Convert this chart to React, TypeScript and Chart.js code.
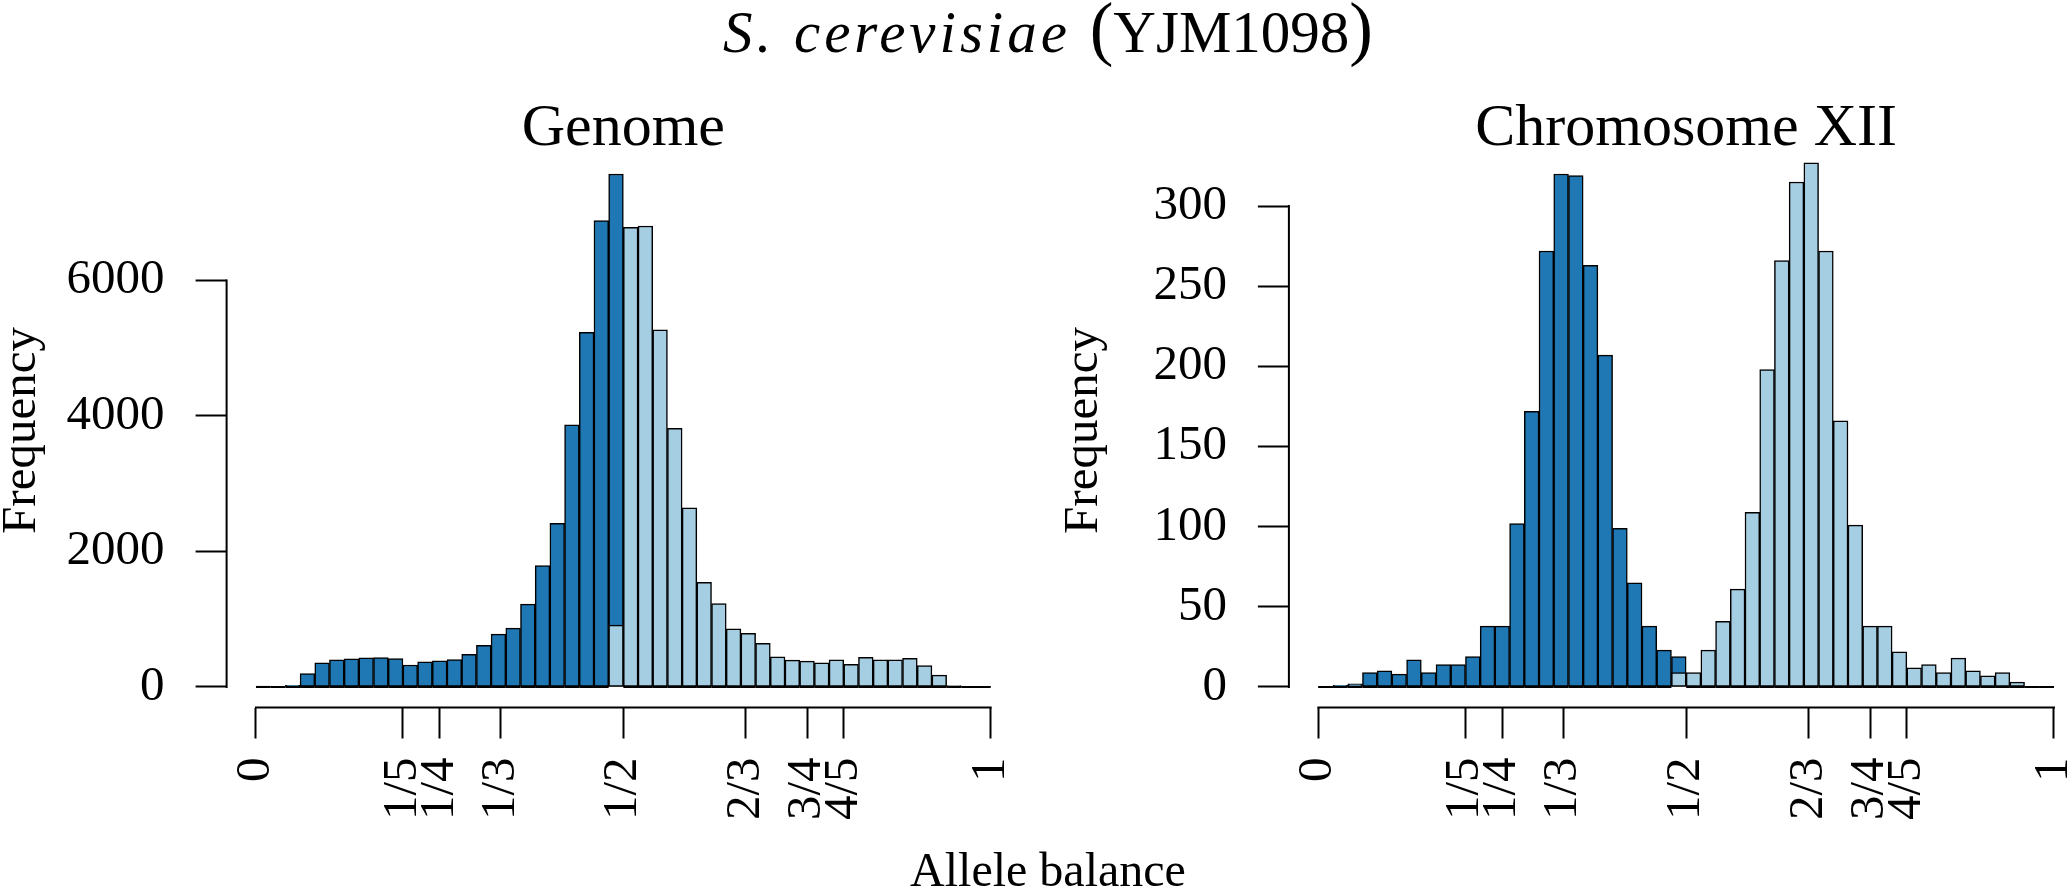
import { useEffect, useRef } from 'react';
import { Chart, registerables } from 'chart.js';

Chart.register(...registerables);

// histogram counts, 50 bins of width 0.02 over [0, 1]
const BIN = 0.02;

const genomeLow = [
  15, 5, 25, 197, 355, 400, 414, 429, 434, 419,
  325, 370, 385, 404, 483, 616, 779, 868, 1222, 1790,
  2415, 3870, 5233, 6883, 7570, 0, 0, 0, 0, 0,
  0, 0, 0, 0, 0, 0, 0, 0, 0, 0,
  0, 0, 0, 0, 0, 0, 0, 0, 0, 0,
];
const genomeHigh = [
  0, 0, 0, 0, 0, 0, 0, 0, 0, 0,
  0, 0, 0, 0, 0, 0, 0, 0, 0, 0,
  0, 0, 0, 0, 914, 6782, 6803, 5270, 3817, 2643,
  1544, 1232, 857, 793, 645, 444, 396, 381, 355, 401,
  333, 438, 401, 401, 423, 317, 174, 20, 5, 10,
];
const chrLow = [
  0, 1, 2, 9, 10, 8, 17, 9, 14, 14,
  19, 38, 38, 102, 172, 272, 320, 319, 263, 207,
  99, 65, 38, 23, 19, 0, 0, 0, 0, 0,
  0, 0, 0, 0, 0, 0, 0, 0, 0, 0,
  0, 0, 0, 0, 0, 0, 0, 0, 0, 0,
];
const chrHigh = [
  0, 0, 0, 0, 0, 0, 0, 0, 0, 0,
  0, 0, 0, 0, 0, 0, 0, 0, 0, 0,
  0, 0, 0, 0, 9, 9, 23, 41, 61, 109,
  198, 266, 315, 327, 272, 166, 101, 38, 38, 22,
  12, 14, 9, 18, 10, 7, 9, 3, 0, 0,
];

const fracTicks = [0, 1 / 5, 1 / 4, 1 / 3, 1 / 2, 2 / 3, 3 / 4, 4 / 5, 1];
const fracLabels = ['0', '1/5', '1/4', '1/3', '1/2', '2/3', '3/4', '4/5', '1'];
const genomeYTicks = [0, 2000, 4000, 6000];
const chrYTicks = [0, 50, 100, 150, 200, 250, 300];

const DARK = '#1f78b4';
const LIGHT = '#a6cee3';
const FONT = "'Liberation Serif', 'Times New Roman', serif";

// canvases are wider than the page; the extra is clipped
const CANVAS_W = 2160;
const CANVAS_H = 892;
const PLOT_TOP = 153.5;
const X_AXIS_H = 184.5;
const FIG_CENTER = 1048;

const rStyle = {
  id: 'rStyle',
  afterDatasetsDraw(chart: any) {
    const { ctx } = chart;
    const x = chart.scales.x;
    const y = chart.scales.y;
    const y0 = y.getPixelForValue(0);
    ctx.save();
    ctx.strokeStyle = '#000';
    ctx.lineWidth = 2;
    // empty bins are flat rectangles in R
    chart.data.datasets.forEach((ds: any, di: number) => {
      const meta = chart.getDatasetMeta(di);
      meta.data.forEach((el: any, i: number) => {
        if (ds.data[i].y !== 0) return;
        const { x: cx, width } = el.getProps(['x', 'width'], true);
        ctx.beginPath();
        ctx.moveTo(cx - width / 2, y0);
        ctx.lineTo(cx + width / 2, y0);
        ctx.stroke();
      });
    });
    // axis lines only between the outer ticks
    const xt = x.ticks;
    const yt = y.ticks;
    ctx.lineCap = 'square';
    ctx.beginPath();
    ctx.moveTo(x.getPixelForValue(xt[0].value), x.top);
    ctx.lineTo(x.getPixelForValue(xt[xt.length - 1].value), x.top);
    ctx.moveTo(y.right, y.getPixelForValue(yt[0].value));
    ctx.lineTo(y.right, y.getPixelForValue(yt[yt.length - 1].value));
    ctx.stroke();
    ctx.restore();
  },
  afterDraw(chart: any, _args: any, opts: any) {
    const { ctx, chartArea: a } = chart;
    ctx.save();
    ctx.fillStyle = '#000';
    ctx.textBaseline = 'alphabetic';
    ctx.textAlign = 'center';
    ctx.font = `60px ${FONT}`;
    ctx.fillText(opts.title, (a.left + a.right) / 2, 145);

    ctx.save();
    ctx.translate(a.left - 192, (a.top + a.bottom) / 2);
    ctx.rotate(-Math.PI / 2);
    ctx.font = `49px ${FONT}`;
    ctx.fillText('Frequency', 0, 0);
    ctx.restore();

    if (opts.figure) {
      ctx.font = `48px ${FONT}`;
      ctx.fillText('Allele balance', FIG_CENTER, 886);

      // S. cerevisiae (YJM1098)
      const parts = [
        { t: 'S. cerevisiae ', f: `italic 59px ${FONT}`, ls: '4px' },
        { t: '(', f: `71px ${FONT}`, ls: '0px' },
        { t: 'YJM1098', f: `59px ${FONT}`, ls: '0px' },
        { t: ')', f: `71px ${FONT}`, ls: '0px' },
      ];
      const widths = parts.map((p) => {
        ctx.font = p.f;
        (ctx as any).letterSpacing = p.ls;
        return ctx.measureText(p.t).width;
      });
      let cx = FIG_CENTER - widths.reduce((s, w) => s + w, 0) / 2;
      ctx.textAlign = 'left';
      parts.forEach((p, i) => {
        ctx.font = p.f;
        (ctx as any).letterSpacing = p.ls;
        ctx.fillText(p.t, cx, 52);
        cx += widths[i];
      });
    }
    ctx.restore();
  },
};

type PanelSpec = {
  title: string;
  low: number[];
  high: number[];
  yTicks: number[];
  plotLeft: number;
  padRight: number;
  figure: boolean;
};

function buildConfig(p: PanelSpec): any {
  const top = Math.max(...p.low);
  const toPoints = (arr: number[]) => arr.map((v, i) => ({ x: (i + 0.5) * BIN, y: v }));
  const barStyle = {
    grouped: false,
    barPercentage: 1,
    categoryPercentage: 1,
    borderColor: '#000',
    borderWidth: 1.5,
    borderSkipped: false,
  };
  const tickFont = { family: FONT, size: 49 };
  const grid = {
    offset: false,
    drawOnChartArea: false,
    drawTicks: true,
    tickLength: 31,
    tickColor: '#000',
    tickWidth: 2,
  };
  return {
    type: 'bar',
    data: {
      datasets: [
        { label: 'low', data: toPoints(p.low), backgroundColor: DARK, order: 1, ...barStyle },
        { label: 'high', data: toPoints(p.high), backgroundColor: LIGHT, order: 0, ...barStyle },
      ],
    },
    options: {
      animation: false,
      responsive: false,
      devicePixelRatio: 1,
      layout: { padding: { top: PLOT_TOP, right: p.padRight, left: 0, bottom: 0 } },
      scales: {
        x: {
          type: 'linear',
          min: -0.04,
          max: 1.04,
          offset: false,
          afterBuildTicks: (s: any) => {
            s.ticks = fracTicks.map((v) => ({ value: v }));
          },
          afterFit: (s: any) => {
            s.height = X_AXIS_H;
          },
          grid,
          border: { display: false },
          ticks: {
            autoSkip: false,
            minRotation: 90,
            maxRotation: 90,
            padding: 19,
            color: '#000',
            font: tickFont,
            callback: (v: number) => {
              const i = fracTicks.findIndex((t) => Math.abs(t - v) < 1e-9);
              return i >= 0 ? fracLabels[i] : '';
            },
          },
        },
        y: {
          type: 'linear',
          min: -0.04 * top,
          max: 1.04 * top,
          afterBuildTicks: (s: any) => {
            s.ticks = p.yTicks.map((v) => ({ value: v }));
          },
          afterFit: (s: any) => {
            s.width = p.plotLeft;
          },
          grid,
          border: { display: false },
          ticks: {
            padding: 31,
            color: '#000',
            font: tickFont,
            callback: (v: number) => String(v),
          },
        },
      },
      plugins: {
        legend: { display: false },
        tooltip: { enabled: false },
        rStyle: { title: p.title, figure: p.figure },
      },
    },
    plugins: [rStyle],
  };
}

function Panel({ spec }: { spec: PanelSpec }) {
  const ref = useRef<HTMLCanvasElement>(null);

  useEffect(() => {
    if (!ref.current) return;
    const chart = new Chart(ref.current, buildConfig(spec));
    return () => {
      chart.destroy();
    };
  }, [spec]);

  return (
    <canvas
      ref={ref}
      width={CANVAS_W}
      height={CANVAS_H}
      style={{ position: 'absolute', left: 0, top: 0, width: CANVAS_W, height: CANVAS_H }}
    />
  );
}

const genomeSpec: PanelSpec = {
  title: 'Genome',
  low: genomeLow,
  high: genomeHigh,
  yTicks: genomeYTicks,
  plotLeft: 226.6,
  padRight: CANVAS_W - 1020.1,
  figure: true,
};

const chrSpec: PanelSpec = {
  title: 'Chromosome XII',
  low: chrLow,
  high: chrHigh,
  yTicks: chrYTicks,
  plotLeft: 1288.9,
  padRight: CANVAS_W - 2083.4,
  figure: false,
};

export default function App() {
  return (
    <div
      style={{
        position: 'fixed',
        left: 0,
        top: 0,
        width: 2072,
        height: 892,
        overflow: 'hidden',
        background: '#fff',
      }}
    >
      <Panel spec={genomeSpec} />
      <Panel spec={chrSpec} />
    </div>
  );
}
